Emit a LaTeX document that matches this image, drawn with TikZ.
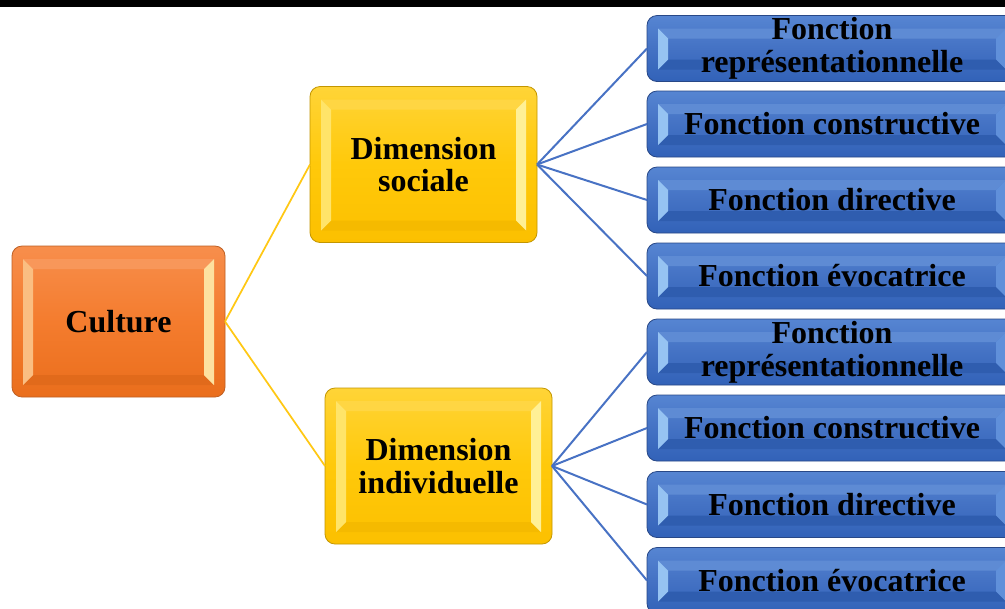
\documentclass[tikz,border=0pt]{standalone}
\usepackage{fontspec}
\setmainfont{Liberation Serif}
\usetikzlibrary{calc}

\definecolor{orTop}{RGB}{247,142,76}
\definecolor{orMid}{RGB}{244,124,46}
\definecolor{orBot}{RGB}{234,110,28}
\definecolor{orL}{RGB}{250,190,130}
\definecolor{orR}{RGB}{253,225,160}
\definecolor{orEdge}{RGB}{190,95,35}

\definecolor{yeTop}{RGB}{255,212,55}
\definecolor{yeMid}{RGB}{255,201,10}
\definecolor{yeBot}{RGB}{252,192,0}
\definecolor{yeL}{RGB}{255,228,105}
\definecolor{yeR}{RGB}{255,240,150}
\definecolor{yeEdge}{RGB}{195,150,0}

\definecolor{blTop}{RGB}{86,133,210}
\definecolor{blMid}{RGB}{68,114,196}
\definecolor{blBot}{RGB}{50,98,184}
\definecolor{blL}{RGB}{150,195,242}
\definecolor{blR}{RGB}{96,144,218}
\definecolor{blEdge}{RGB}{40,72,135}

\definecolor{linkYe}{RGB}{255,200,20}
\definecolor{linkBl}{RGB}{72,114,196}

% bevelled frame drawn inside a box: left, right, top, bottom facets
\newcommand\bevelfacets[4]{%
  \coordinate (pNW) at (path picture bounding box.north west);
  \coordinate (pNE) at (path picture bounding box.north east);
  \coordinate (pSW) at (path picture bounding box.south west);
  \coordinate (pSE) at (path picture bounding box.south east);
  \begin{scope}[sharp corners]
  \fill[#3] ($(pNW)+(11,13)$) -- ($(pNE)+(-11,13)$) -- ($(pNE)+(-21,23)$) -- ($(pNW)+(21,23)$) -- cycle;
  \fill[#4] ($(pSW)+(11,-12)$) -- ($(pSE)+(-11,-12)$) -- ($(pSE)+(-21,-22)$) -- ($(pSW)+(21,-22)$) -- cycle;
  \fill[#1] ($(pNW)+(11,13)$) -- ($(pSW)+(11,-12)$) -- ($(pSW)+(21,-22)$) -- ($(pNW)+(21,23)$) -- cycle;
  \fill[#2] ($(pNE)+(-11,13)$) -- ($(pSE)+(-11,-12)$) -- ($(pSE)+(-21,-22)$) -- ($(pNE)+(-21,23)$) -- cycle;
  \end{scope}
}

\tikzset{
  x=0.75pt, y=-0.75pt,
  glossy/.style={rounded corners=7.5pt, inner sep=0pt, outer sep=0pt,
    align=center, font=\fontsize{24}{24.5}\selectfont\bfseries, line width=0.6pt},
  rootbox/.style={glossy, draw=orEdge, top color=orTop, bottom color=orBot, middle color=orMid,
    minimum width=159.75pt, minimum height=113.25pt,
    path picture={\bevelfacets{orL}{orR}{orTop!92!white}{orBot!96!black}}},
  dimbox/.style={glossy, draw=yeEdge, top color=yeTop, bottom color=yeBot, middle color=yeMid,
    minimum width=170.25pt, minimum height=117pt,
    path picture={\bevelfacets{yeL}{yeR}{yeTop!94!white}{yeBot!97!black}}},
  funcbox/.style={glossy, draw=blEdge, top color=blTop, bottom color=blBot, middle color=blMid,
    minimum width=277.5pt, minimum height=49.5pt,
    path picture={\bevelfacets{blL}{blR}{blTop!95!white}{blBot!95!black}}},
  linkY/.style={draw=linkYe, line width=1.3pt},
  linkB/.style={draw=linkBl, line width=1.5pt}
}

\begin{document}
\begin{tikzpicture}
  \clip (0,0) rectangle (1005,608);
  \fill[white] (0,0) rectangle (1005,608);
  \fill[black] (0,0) rectangle (1005,7);

  % root and the two dimensions
  \node[rootbox] (culture) at (118.5,321.5) {Culture};
  \node[dimbox] (soc) at (423.5,164.5) {Dimension\\sociale};
  \node[dimbox] (ind) at (438.5,466) {Dimension\\individuelle};

  % functions of the social dimension
  \node[funcbox] (s1) at (832,48.5) {Fonction\\représentationnelle};
  \node[funcbox] (s2) at (832,124) {Fonction constructive};
  \node[funcbox] (s3) at (832,200) {Fonction directive};
  \node[funcbox] (s4) at (832,276) {Fonction évocatrice};

  % functions of the individual dimension
  \node[funcbox] (i1) at (832,352) {Fonction\\représentationnelle};
  \node[funcbox] (i2) at (832,428) {Fonction constructive};
  \node[funcbox] (i3) at (832,504.5) {Fonction directive};
  \node[funcbox] (i4) at (832,580.5) {Fonction évocatrice};

  % connectors
  \draw[linkY] (culture.east) -- (soc.west);
  \draw[linkY] (culture.east) -- (ind.west);
  \foreach \f in {s1,s2,s3,s4} \draw[linkB] (soc.east) -- (\f.west);
  \foreach \f in {i1,i2,i3,i4} \draw[linkB] (ind.east) -- (\f.west);
\end{tikzpicture}
\end{document}
